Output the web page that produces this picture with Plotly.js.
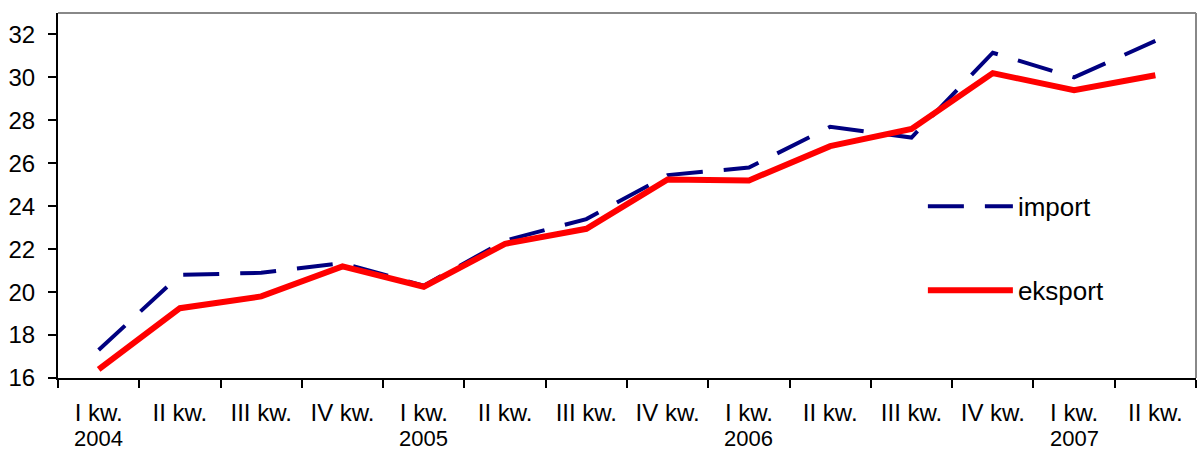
<!DOCTYPE html>
<html>
<head>
<meta charset="utf-8">
<script src="https://cdn.plot.ly/plotly-3.0.1.min.js"></script>
<style>html,body{margin:0;padding:0;background:#fff;}#chart{width:1199px;height:452px;}</style>
</head>
<body>
<div id="chart"></div>
<script>
const categories = ["2004Q1","2004Q2","2004Q3","2004Q4","2005Q1","2005Q2","2005Q3","2005Q4","2006Q1","2006Q2","2006Q3","2006Q4","2007Q1","2007Q2"];
const tickLabels = ["I kw.","II kw.","III kw.","IV kw.","I kw.","II kw.","III kw.","IV kw.","I kw.","II kw.","III kw.","IV kw.","I kw.","II kw."];
const yearLabels = ["2004","2005","2006","2007"];
const yearCategories = ["2004Q1","2005Q1","2006Q1","2007Q1"];
const importValues = [17.3, 20.8, 20.9, 21.35, 20.3, 22.4, 23.4, 25.45, 25.8, 27.7, 27.2, 31.15, 30.0, 31.7];
const eksportValues = [16.4, 19.25, 19.8, 21.2, 20.25, 22.25, 22.95, 25.25, 25.2, 26.8, 27.6, 30.2, 29.4, 30.1];

const traces = [
  {x: categories, y: importValues, name: "import", type: "scatter", mode: "lines", legendgroup: "a",
   line: {color: "#000080", width: 4, dash: "36px,21px"}},
  {x: categories, y: eksportValues, name: "eksport", type: "scatter", mode: "lines", legendgroup: "b",
   line: {color: "#ff0000", width: 6}}
];

const annotations = yearLabels.map((t, i) => ({
  x: yearCategories[i], xref: "x", y: 0, yref: "paper", yshift: -60, yanchor: "middle", xanchor: "center",
  text: t, showarrow: false, font: {size: 22, color: "#000"}
}));

const layout = {
  width: 1199, height: 452,
  margin: {l: 58, r: 3, t: 13, b: 74},
  paper_bgcolor: "#fff", plot_bgcolor: "#fff",
  font: {family: "Liberation Sans, Arial, sans-serif", size: 23, color: "#000"},
  showlegend: true,
  legend: {x: 0.76, y: 0.355, xanchor: "left", yanchor: "middle", bgcolor: "rgba(0,0,0,0)",
           itemwidth: 85, tracegroupgap: 47, font: {size: 26}},
  xaxis: {type: "category", tickvals: categories, ticktext: tickLabels, tickson: "boundaries",
          ticks: "outside", ticklen: 8, tickwidth: 2, tickcolor: "#000", ticklabelstandoff: 12,
          showline: true, linecolor: "#000", linewidth: 2, showgrid: false, zeroline: false,
          range: [-0.5, 13.5], tickfont: {size: 24}, fixedrange: true},
  yaxis: {range: [16, 33], tickvals: [16,18,20,22,24,26,28,30,32], ticks: "outside", ticklen: 8, tickwidth: 2,
          tickcolor: "#000", showline: true, linecolor: "#000", linewidth: 2, showgrid: false, zeroline: false,
          ticklabelstandoff: 8, tickfont: {size: 24}, fixedrange: true},
  annotations: annotations,
  shapes: [
    {type: "line", xref: "paper", yref: "paper", x0: 0, x1: 1, y0: 1, y1: 1, line: {color: "#888", width: 2}},
    {type: "line", xref: "paper", yref: "paper", x0: 1, x1: 1, y0: 0, y1: 1, line: {color: "#888", width: 2}}
  ]
};

Plotly.newPlot("chart", traces, layout, {displayModeBar: false, staticPlot: true});
</script>
</body>
</html>
